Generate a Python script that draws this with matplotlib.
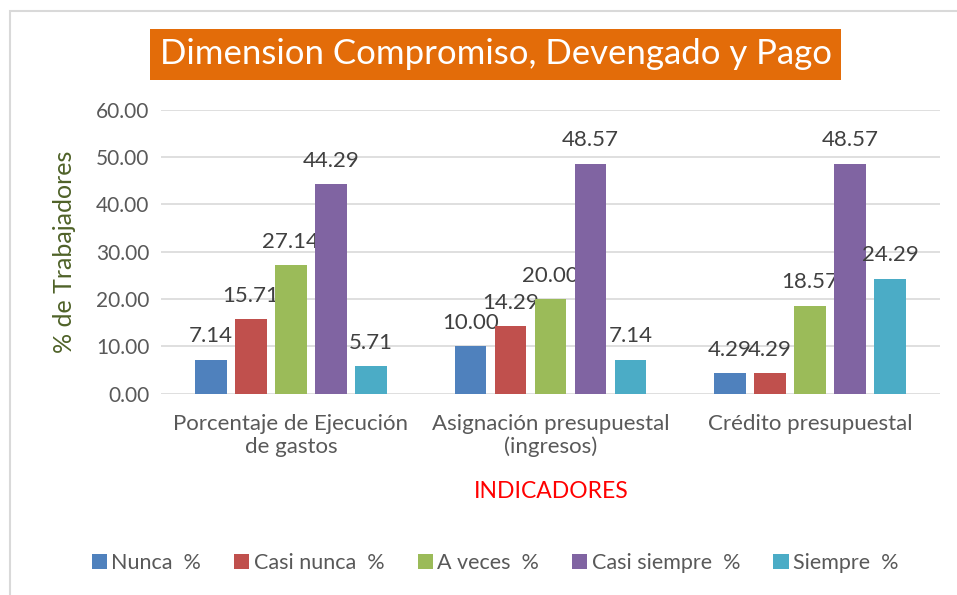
import numpy as np
import matplotlib
matplotlib.use('Agg')
import matplotlib.pyplot as plt
from matplotlib.patches import Rectangle

# data
categories = ['Porcentaje de Ejecución\nde gastos', 'Asignación presupuestal\n(ingresos)', 'Crédito presupuestal']
series = ['Nunca  %', 'Casi nunca  %', 'A veces  %', 'Casi siempre  %', 'Siempre  %']
nunca = [7.14, 10.00, 4.29]
casi_nunca = [15.71, 14.29, 4.29]
a_veces = [27.14, 20.00, 18.57]
casi_siempre = [44.29, 48.57, 48.57]
siempre = [5.71, 7.14, 24.29]
colors = ['#4F81BD', '#C0504D', '#9BBB59', '#8064A2', '#4BACC6']

plt.rcParams['font.family'] = ['Lato', 'DejaVu Sans']
txt = '#595959'

fig = plt.figure(figsize=(9.57, 5.95), dpi=100)
W, H = 957, 595
ax = fig.add_axes([161 / W, 1 - 393.5 / H, 779 / W, 284 / H])

# outer chart frame (cut off at right/bottom as in the source)
fig.patches.append(Rectangle((10 / W, -0.1), 1.2, 1 - 11 / H + 0.1, transform=fig.transFigure,
                             fill=False, edgecolor='#D9D9D9', linewidth=1.5))

x = np.arange(len(categories))
slot = 0.154
width = 0.121
values = [nunca, casi_nunca, a_veces, casi_siempre, siempre]
for i, (name, vals) in enumerate(zip(series, values)):
    pos = x + (i - 2) * slot
    bars = ax.bar(pos, vals, width, color=colors[i], label=name, zorder=3)
    for b, v in zip(bars, vals):
        ax.text(b.get_x() + b.get_width() / 2, v + 2.8, '%.2f' % v, ha='center', va='bottom',
                fontsize=16, color='#404040')

ax.set_xlim(-0.5, 2.5)
ax.set_ylim(0, 60)
ax.set_yticks(np.arange(0, 61, 10))
ax.set_yticklabels(['%.2f' % t for t in np.arange(0, 61, 10)])
ax.grid(axis='y', color='#D9D9D9', linewidth=1.2, zorder=0)
for s in ax.spines.values():
    s.set_visible(False)
ax.tick_params(axis='both', length=0, labelcolor=txt)
ax.tick_params(axis='y', pad=8.5, labelsize=15)
ax.tick_params(axis='x', pad=15, labelsize=16)
ax.set_xticks(x)
ax.set_xticklabels(categories, linespacing=1.15)

ax.set_ylabel('% de Trabajadores', fontsize=18, color='#4F6228', labelpad=14)
fig.text(551 / W, 1 - 492 / H, 'INDICADORES', ha='center', va='center', fontsize=16.5, color='#FF0000')

# title in orange box
fig.text(495.5 / W, 1 - 54.5 / H, 'Dimension Compromiso, Devengado y Pago', ha='center', va='center',
         fontsize=25, color='white',
         bbox=dict(boxstyle='square,pad=0.26', facecolor='#E36C09', edgecolor='none'))

leg = fig.legend(loc='center', bbox_to_anchor=(495 / W, 1 - 563 / H), ncol=5, frameon=False,
                 fontsize=15.5, handlelength=0.7, handleheight=0.7, handletextpad=0.2,
                 columnspacing=1.55)
for t in leg.get_texts():
    t.set_color(txt)

fig.savefig('out.png', dpi=100)
